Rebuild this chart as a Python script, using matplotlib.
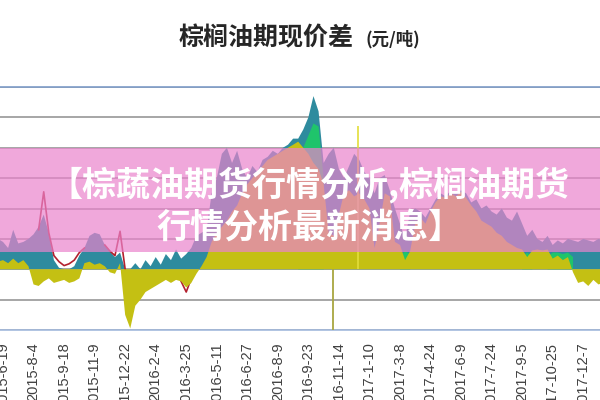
import numpy as np
import matplotlib
matplotlib.use('Agg')
import matplotlib.pyplot as plt
from matplotlib.patches import Rectangle

plt.rcParams['font.family'] = ['Noto Sans CJK SC', 'DejaVu Sans']

nan = np.nan

# tick labels (one every 6 samples)
dates = ['2015-6-19', '2015-8-4', '2015-9-18', '2015-11-9', '2015-12-22',
         '2016-2-4', '2016-3-25', '2016-5-11', '2016-6-27', '2016-8-9',
         '2016-9-23', '2016-11-14', '2017-1-10', '2017-3-8', '2017-4-24',
         '2017-6-9', '2017-7-24', '2017-9-5', '2017-10-25', '2017-12-7']

# basis series, sampled values (yuan/ton)
yellow = [25, 30, 20, 35, 20, 30, 10, -50, -55, -40,
          -30, -45, -40, -35, -45, -40, -30, 20, 25, 15,
          20, 10, -10, -15, 20, -150, -195, -120, -100, -75,
          -65, -55, -45, -35, -45, -35, -40, -60, -45, -15,
          10, 40, 90, 120, 140, 160, 190, 210, 250, 280,
          300, 320, 340, 360, 370, 380, 390, 400, 410, 420,
          400, 380, 350, 330, 280, 120, 110, 180, 250, 260,
          240, 250, 230, 200, 70, 150, 250, 240, 90, 80,
          30, 60, 150, 170, 150, 190, 220, 240, 235, 250,
          240, 255, 235, 210, 190, 160, 150, 140, 120, 110,
          90, 80, 70, 65, 40, 62, 65, 62, 65, 35,
          45, 30, 40, -10, -45, -40, -55, -35, -50, -45]

teal = [100, 90, 70, 130, 85, 90, 100, 115, 140, 180,
        120, 30, 5, 0, 0, 10, 45, 70, 110, 120,
        115, 80, 60, 40, 55, 0, 0, 20, 0, 30,
        10, 40, 15, 50, 30, 65, 35, 50, 70, 110,
        120, 130, 250, 300, 380, 400, 350, 390, 330, 300,
        340, 320, 360, 370, 390, 380, 400, 410, 430, 430,
        460, 500, 570, 520, 350, 380, 400, 330, 300, 340,
        380, 360, 320, 300, 250, 300, 310, 260, 200, 150,
        100, 190, 200, 190, 170, 200, 230, 250, 240, 260,
        250, 260, 250, 220, 230, 200, 210, 190, 180, 200,
        170, 160, 190, 150, 110, 130, 100, 90, 110, 80,
        95, 85, 100, 95, 90, 100, 95, 90, 100, 95]

green = [nan, nan, nan, nan, nan, nan, nan, nan, nan, nan,
         nan, nan, nan, nan, nan, nan, nan, nan, nan, nan,
         nan, nan, nan, nan, nan, nan, nan, nan, nan, nan,
         nan, nan, nan, nan, nan, nan, nan, nan, nan, nan,
         nan, nan, nan, nan, nan, nan, nan, nan, nan, nan,
         nan, nan, nan, nan, nan, nan, nan, nan, nan, 300,
         400, 440, 480, 470, 300, nan, nan, nan, nan, nan,
         nan, nan, nan, nan, nan, nan, nan, nan, nan, 40,
         60, 50, nan, nan, nan, nan, nan, nan, nan, nan,
         nan, nan, nan, nan, nan, nan, nan, nan, nan, nan,
         nan, nan, nan, 40, 55, 40, nan, nan, 40, 55,
         55, 50, 55, 40, nan, nan, nan, nan, nan, nan]

red = [nan, nan, nan, nan, nan, nan, nan, nan, 130, 255,
       120, 45, 25, 12, 18, 30, 55, 70, nan, nan,
       nan, 80, 60, 45, 125, 0, nan, nan, nan, nan,
       nan, nan, nan, nan, nan, nan, -40, -75, -30, nan,
       nan, nan, nan, nan, nan, nan, nan, nan, nan, nan,
       nan, nan, nan, nan, nan, nan, nan, nan, nan, nan,
       nan, nan, nan, nan, nan, nan, nan, nan, nan, nan,
       nan, nan, nan, nan, nan, nan, nan, nan, nan, nan,
       nan, nan, nan, nan, nan, nan, nan, nan, nan, nan,
       nan, nan, nan, nan, nan, nan, nan, nan, nan, nan,
       nan, nan, nan, nan, nan, nan, nan, nan, nan, nan,
       nan, nan, nan, nan, nan, nan, nan, nan, nan, nan]

# single-day spikes (sample position, value)
spike_pos = [65.8, 70.7]
spike_val = [-200, 470]

x = np.arange(len(yellow))
yellow = np.array(yellow, float)
teal = np.array(teal, float)
green = np.array(green, float)
red = np.array(red, float)

fig = plt.figure(figsize=(6, 4), dpi=100)
ax = fig.add_axes([0, 0.175, 1, 0.6075])

ax.fill_between(x, 0, teal, color='#2E8B9E', lw=0, zorder=1)
ax.fill_between(x, 0, green, color='#1FC46B', lw=0, zorder=2)
ax.plot(x, red, color='#B3202E', lw=1.2, zorder=3)
ax.fill_between(x, 0, yellow, color='#C4C013', lw=0, zorder=4)
ax.vlines(spike_pos[0], spike_val[0], 0, color='#A8A640', lw=1.3, zorder=4)
ax.vlines(spike_pos[1], 0, spike_val[1], color='#E3DE3A', lw=1.2, zorder=4)

ax.set_xlim(0.41, 118.3)
ax.set_ylim(-200, 600)
ax.set_yticks(np.arange(-200, 601, 100))
ax.yaxis.grid(True, color='#A6A6A6', lw=1.4)
ax.set_axisbelow(True)
ax.tick_params(axis='y', left=False, labelleft=False)

ax.set_xticks(np.arange(1, 1 + 6 * len(dates), 6))
ax.set_xticklabels(dates, rotation=90, fontsize=10.5, color='#404040',
                   family=['Liberation Sans', 'DejaVu Sans'])
ax.tick_params(axis='x', length=0, pad=9)

for s in ['left', 'right']:
    ax.spines[s].set_visible(False)
ax.spines['top'].set_color('#7E9CC8')
ax.spines['bottom'].set_color('#A3BADD')
ax.spines['top'].set_linewidth(1.2)
ax.spines['bottom'].set_linewidth(1.2)

# title
fig.text(0.443, 0.905, '棕榈油期现价差', ha='center', va='center',
         fontsize=18, fontweight='bold', color='#262626')
fig.text(0.655, 0.903, '(元/吨)', ha='center', va='center',
         fontsize=12.5, fontweight='bold', color='#262626')

# pink banner over the chart
fig.add_artist(Rectangle((0, 0.37), 1, 0.26, transform=fig.transFigure,
                         facecolor='#EA83CD', alpha=0.7, lw=0, zorder=5))
fig.text(0.515, 1 - 185 / 400, '【棕蔬油期货行情分析,棕榈油期货', ha='center',
         va='center', fontsize=24.5, fontweight='bold', color='white', zorder=6)
fig.text(0.515, 1 - 227 / 400, '行情分析最新消息】', ha='center',
         va='center', fontsize=24.5, fontweight='bold', color='white', zorder=6)

plt.savefig('out.png', dpi=100)
